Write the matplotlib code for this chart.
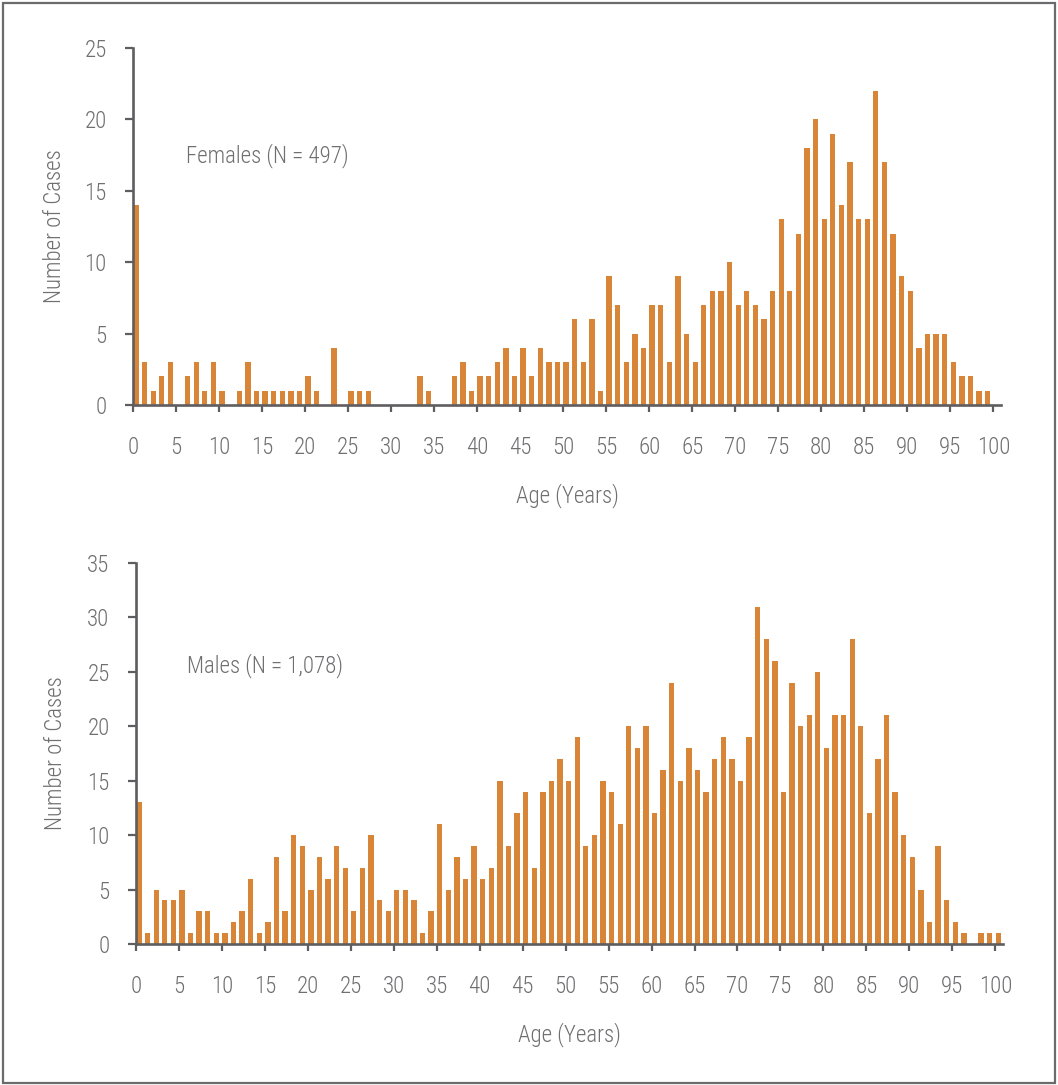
import numpy as np
import matplotlib
matplotlib.use("Agg")
import matplotlib.pyplot as plt
from matplotlib import font_manager
from matplotlib.patches import Rectangle

# Age categories 0..100
ages = np.arange(0, 101)

# Females, cases per year of age (N = 497)
female_cases = [
    14, 3, 1, 2, 3, 0, 2, 3, 1, 3,      # 0-9
    1, 0, 1, 3, 1, 1, 1, 1, 1, 1,       # 10-19
    2, 1, 0, 4, 0, 1, 1, 1, 0, 0,       # 20-29
    0, 0, 0, 2, 1, 0, 0, 2, 3, 1,       # 30-39
    2, 2, 3, 4, 2, 4, 2, 4, 3, 3,       # 40-49
    3, 6, 3, 6, 1, 9, 7, 3, 5, 4,       # 50-59
    7, 7, 3, 9, 5, 3, 7, 8, 8, 10,      # 60-69
    7, 8, 7, 6, 8, 13, 8, 12, 18, 20,   # 70-79
    13, 19, 14, 17, 13, 13, 22, 17, 12, 9,  # 80-89
    8, 4, 5, 5, 5, 3, 2, 2, 1, 1,       # 90-99
    0,                                  # 100
]

# Males, cases per year of age (N = 1,078)
male_cases = [
    13, 1, 5, 4, 4, 5, 1, 3, 3, 1,      # 0-9
    1, 2, 3, 6, 1, 2, 8, 3, 10, 9,      # 10-19
    5, 8, 6, 9, 7, 3, 7, 10, 4, 3,      # 20-29
    5, 5, 4, 1, 3, 11, 5, 8, 6, 9,      # 30-39
    6, 7, 15, 9, 12, 14, 7, 14, 15, 17, # 40-49
    15, 19, 9, 10, 15, 14, 11, 20, 18, 20,  # 50-59
    12, 16, 24, 15, 18, 16, 14, 17, 19, 17, # 60-69
    15, 19, 31, 28, 26, 14, 24, 20, 21, 25, # 70-79
    18, 21, 21, 28, 20, 12, 17, 21, 14, 10, # 80-89
    8, 5, 2, 9, 4, 2, 1, 0, 1, 1,       # 90-99
    1,                                  # 100
]

female_label = "Females (N = 497)"
male_label = "Males (N = 1,078)"
x_ticks = np.arange(0, 101, 5)

BAR_COLOR = "#D98537"
AXIS_COLOR = "#5e5e60"
TEXT_COLOR = "#6f6f72"
FS = 16.5

# pick a narrow font if one is there
available = {f.name for f in font_manager.fontManager.ttflist}
family = ["DejaVu Sans"]
for name in ["Roboto Condensed", "Liberation Sans Narrow", "Open Sans Condensed"]:
    if name in available:
        family = [name, "DejaVu Sans"]
        break
plt.rcParams["font.family"] = family
plt.rcParams["font.weight"] = "light"
plt.rcParams["axes.labelweight"] = "light"


def draw_panel(ax, values, ymax, label, label_xy, ylabel_x):
    ax.bar(ages + 0.04, values, width=0.62, align="edge",
           color=BAR_COLOR, edgecolor="none")
    ax.set_xlim(0, 100.9)
    ax.set_ylim(0, ymax)
    ax.set_xticks(x_ticks)
    ax.set_yticks(np.arange(0, ymax + 1, 5))

    for side in ["top", "right"]:
        ax.spines[side].set_visible(False)
    for side in ["left", "bottom"]:
        ax.spines[side].set_color(AXIS_COLOR)
        ax.spines[side].set_linewidth(1.9)

    ax.tick_params(axis="y", direction="out", length=6, width=1.6,
                   color=AXIS_COLOR, labelcolor=TEXT_COLOR,
                   labelsize=FS, pad=13)
    ax.tick_params(axis="x", direction="out", length=5, width=1.6,
                   color=AXIS_COLOR, labelcolor=TEXT_COLOR,
                   labelsize=FS, pad=17)

    ax.set_xlabel("Age (Years)", fontsize=FS, color=TEXT_COLOR, labelpad=18)
    ax.set_ylabel("Number of Cases", fontsize=FS, color=TEXT_COLOR)
    ax.yaxis.set_label_coords(ylabel_x, 0.5)

    ax.text(label_xy[0], label_xy[1], label, fontsize=FS, color=TEXT_COLOR,
            ha="left", va="center")


fig = plt.figure(figsize=(10.58, 10.85), dpi=100)

ax1 = fig.add_axes([133 / 1058, 1 - 405 / 1085, 868 / 1058, 357 / 1085])
draw_panel(ax1, female_cases, 25, female_label, (6.2, 17.5), -0.077)

ax2 = fig.add_axes([136 / 1058, 1 - 944 / 1085, 867 / 1058, 381 / 1085])
draw_panel(ax2, male_cases, 35, male_label, (5.9, 25.6), -0.080)

# outer frame
fig.patches.append(Rectangle((3 / 1058, 2 / 1085), 1052 / 1058, 1080 / 1085,
                             transform=fig.transFigure, fill=False,
                             edgecolor="#6b6b6e", linewidth=1.6))

fig.savefig("out.png", dpi=100)
